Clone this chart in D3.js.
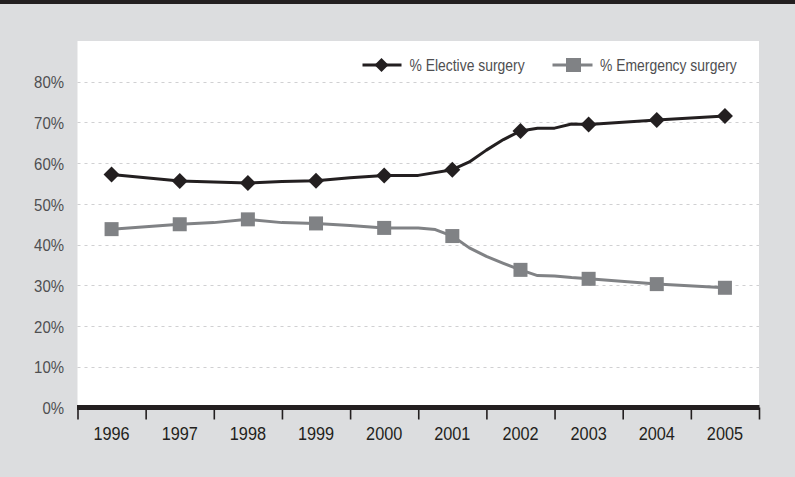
<!DOCTYPE html>
<html>
<head>
<meta charset="utf-8">
<script src="https://cdn.jsdelivr.net/npm/d3@7"></script>
<style>
  html, body { margin: 0; padding: 0; background: #dcdddf; }
  svg { display: block; }
  text { font-family: "Liberation Sans", Arial, sans-serif; }
</style>
</head>
<body>
<script>
// Annual figures (marked points)
const years = [1996, 1997, 1998, 1999, 2000, 2001, 2002, 2003, 2004, 2005];
const electiveAnnual  = [57.2, 55.6, 55.1, 55.7, 57.0, 58.4, 67.9, 69.5, 70.6, 71.6];
const emergencyAnnual = [43.8, 45.0, 46.2, 45.2, 44.1, 42.1, 33.8, 31.6, 30.3, 29.4];

// Sub-annual series drawn as the connecting lines
const elecPeriods = [1996, 1997, 1997.5, 1998, 1998.5, 1999, 1999.5, 2000, 2000.25, 2000.5, 2001,
                     2001.25, 2001.5, 2001.75, 2002, 2002.25, 2002.5, 2002.75, 2003, 2004, 2005];
const electiveLine = [57.2, 55.6, 55.4, 55.1, 55.5, 55.7, 56.4, 57.0, 57.0, 57.0, 58.4,
                      60.3, 63.2, 65.8, 67.9, 68.6, 68.6, 69.6, 69.5, 70.6, 71.6];
const emerPeriods = [1996, 1997, 1997.5, 1998, 1998.5, 1999, 1999.5, 2000, 2000.5, 2000.75, 2001,
                     2001.25, 2001.5, 2001.75, 2002, 2002.25, 2002.5, 2002.75, 2003, 2004, 2005];
const emergencyLine = [43.8, 45.0, 45.4, 46.2, 45.4, 45.2, 44.7, 44.1, 44.1, 43.7, 42.1,
                       39.2, 37.1, 35.4, 33.8, 32.4, 32.3, 31.9, 31.6, 30.3, 29.4];

const yTicks = [0, 10, 20, 30, 40, 50, 60, 70, 80];
const seriesNames = ["% Elective surgery", "% Emergency surgery"];

const W = 795, H = 477;
const plot = { left: 77.5, right: 759, top: 41, bottom: 407.5 };
const ink = "#231f20", grey = "#808285", labelGrey = "#4f4f51";
const narrow = "scale(0.88,1)";   // condensed look for all labels

const svg = d3.select("body").append("svg").attr("width", W).attr("height", H);

svg.append("rect").attr("width", W).attr("height", H).attr("fill", "#dcdddf");
svg.append("rect").attr("width", W).attr("height", 4).attr("fill", ink);
svg.append("rect")
  .attr("x", plot.left).attr("y", plot.top)
  .attr("width", plot.right - plot.left).attr("height", plot.bottom - plot.top)
  .attr("fill", "#ffffff");

// Scales
const xBand = d3.scaleBand().domain(years).range([plot.left, plot.right]).padding(0);
const xEdges = d3.scaleLinear().domain([0, years.length]).range([plot.left, plot.right]);
const xTime = d3.scaleLinear()
  .domain([years[0], years[years.length - 1]])
  .range([xBand(years[0]) + xBand.bandwidth() / 2, xBand(years[years.length - 1]) + xBand.bandwidth() / 2]);
const y = d3.scaleLinear().domain([0, 90]).range([plot.bottom, plot.top]);

// Dashed gridlines
svg.append("g")
  .selectAll("line")
  .data(yTicks.filter(d => d > 0))
  .join("line")
  .attr("x1", plot.left).attr("x2", plot.right)
  .attr("y1", d => Math.round(y(d)) + 0.5).attr("y2", d => Math.round(y(d)) + 0.5)
  .attr("stroke", "#d0d0d2").attr("stroke-width", 1.2)
  .attr("stroke-dasharray", "3,4");

// Y axis labels
const yAxis = d3.axisLeft(y).tickValues(yTicks).tickSize(0).tickPadding(0).tickFormat(d => d + "%");
const gy = svg.append("g").attr("transform", "translate(64,0)").call(yAxis);
gy.select(".domain").remove();
gy.selectAll("text")
  .attr("x", 0)
  .attr("fill", labelGrey)
  .attr("font-size", 17)
  .attr("dy", "0.36em")
  .attr("transform", narrow);

// X axis: thick baseline with boundary ticks
const edgeAxis = d3.axisBottom(xEdges).tickValues(d3.range(years.length + 1)).tickSize(12).tickFormat("");
const gEdges = svg.append("g").attr("transform", `translate(0,${plot.bottom})`).call(edgeAxis);
gEdges.select(".domain").remove();
gEdges.selectAll(".tick line").attr("stroke", ink).attr("stroke-width", 1.6);
svg.append("line")
  .attr("x1", plot.left - 0.5).attr("x2", plot.right + 0.5)
  .attr("y1", plot.bottom).attr("y2", plot.bottom)
  .attr("stroke", ink).attr("stroke-width", 5);

const labelAxis = d3.axisBottom(xBand).tickSize(0).tickPadding(0);
const gx = svg.append("g").attr("transform", `translate(0,${plot.bottom})`).call(labelAxis);
gx.select(".domain").remove();
gx.selectAll("text")
  .attr("fill", ink)
  .attr("font-size", 18.5)
  .attr("dy", null)
  .attr("y", 33)
  .attr("transform", narrow);

// Lines
const lineGen = d3.line().x(d => xTime(d[0])).y(d => y(d[1]));
const elecPts = elecPeriods.map((p, i) => [p, electiveLine[i]]);
const emerPts = emerPeriods.map((p, i) => [p, emergencyLine[i]]);

svg.append("path").datum(emerPts).attr("d", lineGen)
  .attr("fill", "none").attr("stroke", grey).attr("stroke-width", 3).attr("stroke-linejoin", "round");
svg.append("path").datum(elecPts).attr("d", lineGen)
  .attr("fill", "none").attr("stroke", ink).attr("stroke-width", 3).attr("stroke-linejoin", "round");

// Markers
const sq = 14, dia = 8;
svg.append("g").selectAll("rect")
  .data(years.map((yr, i) => [yr, emergencyAnnual[i]]))
  .join("rect")
  .attr("x", d => xTime(d[0]) - sq / 2).attr("y", d => y(d[1]) - sq / 2)
  .attr("width", sq).attr("height", sq).attr("fill", grey);

const diamond = (cx, cy, r) => `M${cx},${cy - r}L${cx + r},${cy}L${cx},${cy + r}L${cx - r},${cy}Z`;
svg.append("g").selectAll("path")
  .data(years.map((yr, i) => [yr, electiveAnnual[i]]))
  .join("path")
  .attr("d", d => diamond(xTime(d[0]), y(d[1]), dia))
  .attr("fill", ink);

// Legend
const legY = 65;
const leg = svg.append("g");
leg.append("line").attr("x1", 362.5).attr("x2", 401.5).attr("y1", legY).attr("y2", legY)
  .attr("stroke", ink).attr("stroke-width", 3);
leg.append("path").attr("d", diamond(381.5, legY, 7)).attr("fill", ink);
leg.append("g").attr("transform", `translate(409.5,${legY}) ${narrow}`)
  .append("text").attr("dy", "0.36em")
  .attr("font-size", 15.8).attr("fill", labelGrey).text(seriesNames[0]);

leg.append("line").attr("x1", 552.5).attr("x2", 592.5).attr("y1", legY).attr("y2", legY)
  .attr("stroke", grey).attr("stroke-width", 3);
leg.append("rect").attr("x", 566).attr("y", legY - 7).attr("width", 15).attr("height", 14).attr("fill", grey);
leg.append("g").attr("transform", `translate(600,${legY}) ${narrow}`)
  .append("text").attr("dy", "0.36em")
  .attr("font-size", 15.8).attr("fill", labelGrey).text(seriesNames[1]);
</script>
</body>
</html>
